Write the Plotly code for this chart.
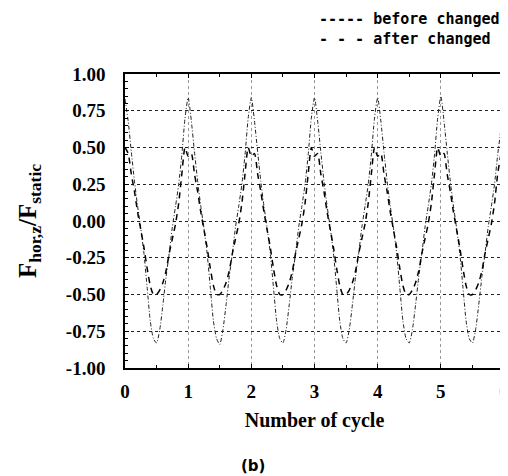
import plotly.graph_objects as go

# Phase values (x step 0.05, cycle 0..6)
x_cycle = [round(i * 0.05, 2) for i in range(120)]

before_changed = [
    0.83, 0.68, 0.47, 0.27, 0.10, -0.05, -0.22, -0.45, -0.68, -0.80, -0.83, -0.74, -0.57, -0.38, -0.22, -0.04, 0.10, 0.25, 0.45, 0.70,
    0.84, 0.68, 0.47, 0.27, 0.10, -0.05, -0.22, -0.45, -0.68, -0.80, -0.84, -0.74, -0.57, -0.38, -0.22, -0.04, 0.10, 0.25, 0.45, 0.70,
    0.84, 0.68, 0.47, 0.27, 0.10, -0.05, -0.22, -0.45, -0.68, -0.80, -0.83, -0.74, -0.57, -0.38, -0.22, -0.04, 0.10, 0.25, 0.45, 0.70,
    0.84, 0.68, 0.47, 0.27, 0.10, -0.05, -0.22, -0.45, -0.68, -0.80, -0.83, -0.74, -0.57, -0.38, -0.22, -0.04, 0.10, 0.25, 0.45, 0.70,
    0.84, 0.68, 0.47, 0.27, 0.10, -0.05, -0.22, -0.45, -0.68, -0.80, -0.83, -0.74, -0.57, -0.38, -0.22, -0.04, 0.10, 0.25, 0.45, 0.70,
    0.85, 0.68, 0.47, 0.27, 0.10, -0.05, -0.22, -0.45, -0.68, -0.80, -0.83, -0.74, -0.57, -0.38, -0.22, -0.04, 0.10, 0.25, 0.45, 0.62,
]

after_changed = [
    0.50, 0.46, 0.32, 0.20, 0.06, -0.06, -0.18, -0.32, -0.44, -0.50, -0.50, -0.47, -0.42, -0.34, -0.22, -0.12, -0.02, 0.12, 0.32, 0.50,
    0.44, 0.46, 0.32, 0.20, 0.06, -0.06, -0.18, -0.32, -0.44, -0.50, -0.50, -0.47, -0.42, -0.34, -0.22, -0.12, -0.02, 0.12, 0.32, 0.50,
    0.44, 0.46, 0.32, 0.20, 0.06, -0.06, -0.18, -0.32, -0.44, -0.50, -0.50, -0.47, -0.42, -0.34, -0.22, -0.12, -0.02, 0.12, 0.32, 0.50,
    0.44, 0.46, 0.32, 0.20, 0.06, -0.06, -0.18, -0.32, -0.44, -0.50, -0.50, -0.47, -0.42, -0.34, -0.22, -0.12, -0.02, 0.12, 0.32, 0.50,
    0.44, 0.46, 0.32, 0.20, 0.06, -0.06, -0.18, -0.32, -0.44, -0.50, -0.50, -0.47, -0.42, -0.34, -0.22, -0.12, -0.02, 0.12, 0.32, 0.50,
    0.44, 0.46, 0.32, 0.20, 0.06, -0.06, -0.18, -0.32, -0.44, -0.50, -0.50, -0.47, -0.42, -0.34, -0.22, -0.12, -0.02, 0.12, 0.32, 0.45,
]

x_ticks = [0, 1, 2, 3, 4, 5, 6]
y_ticks = [1.00, 0.75, 0.50, 0.25, 0.00, -0.25, -0.50, -0.75, -1.00]
y_tick_labels = ["1.00", "0.75", "0.50", "0.25", "0.00", "-0.25", "-0.50", "-0.75", "-1.00"]
legend_lines = ["----- before changed", "- - - after changed"]

serif = "Liberation Serif"

fig = go.Figure()
fig.add_trace(go.Scatter(
    x=x_cycle, y=before_changed, mode="lines", name="before changed",
    line=dict(color="#222222", width=1, dash="4px,2px,1px,2px", shape="spline", smoothing=0.6),
    showlegend=False,
))
fig.add_trace(go.Scatter(
    x=x_cycle, y=after_changed, mode="lines", name="after changed",
    line=dict(color="#000000", width=1.5, dash="6px,5px", shape="spline", smoothing=0.6),
    showlegend=False,
))

fig.update_layout(
    width=508, height=476,
    margin=dict(l=117, r=7, t=66, b=116),
    paper_bgcolor="white", plot_bgcolor="white",
    font=dict(family=serif, color="black"),
    xaxis=dict(
        range=[0, 6], tickvals=x_ticks, ticktext=[str(v) for v in x_ticks],
        tickfont=dict(family=serif, size=19, weight="bold"),
        ticks="inside", ticklen=4, tickcolor="black",
        minor=dict(dtick=0.5, ticks="inside", ticklen=3, tickcolor="black", showgrid=False),
        showline=True, linecolor="black", linewidth=1.5, mirror="ticks",
        showgrid=True, gridcolor="#999999", griddash="dot", gridwidth=1,
        zeroline=False, ticklabelstandoff=5,
        title=dict(text="Number of cycle", font=dict(family=serif, size=20, weight="bold"), standoff=12),
    ),
    yaxis=dict(
        range=[-1, 1], tickvals=y_ticks, ticktext=y_tick_labels,
        tickfont=dict(family=serif, size=19, weight="bold"),
        ticks="inside", ticklen=4, tickcolor="black",
        minor=dict(dtick=0.05, ticks="inside", ticklen=3, tickcolor="black", showgrid=False),
        showline=True, linecolor="black", linewidth=1.5, mirror="ticks",
        showgrid=True, gridcolor="#222222", griddash="dot", gridwidth=1,
        zeroline=False, ticklabelstandoff=14,
        title=dict(text="F<sub>hor,z</sub>/F<sub>static</sub>", font=dict(family=serif, size=25, weight="bold"), standoff=22),
    ),
    annotations=[
        dict(text="<br>".join(legend_lines), xref="paper", yref="paper", x=1, y=1,
             xanchor="right", yanchor="middle", align="left", yshift=45, xshift=-2,
             showarrow=False,
             font=dict(family="DejaVu Sans Mono", size=15, weight="bold")),
        dict(text="(b)", xref="paper", yref="paper", x=0.337, y=0,
             xanchor="center", yanchor="middle", yshift=-98, showarrow=False,
             font=dict(family="DejaVu Sans", size=15, weight="bold")),
    ],
)

fig.write_html("out.html")
